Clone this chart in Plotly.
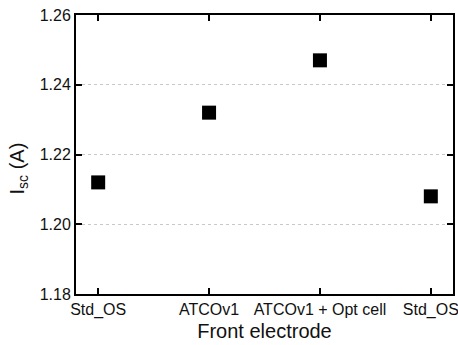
import plotly.graph_objects as go

categories = ["Std_OS", "ATCOv1", "ATCOv1 + Opt cell", "Std_OS"]
positions = [0, 1, 2, 3]
isc_values = [1.212, 1.232, 1.247, 1.208]
y_ticks = [1.18, 1.20, 1.22, 1.24, 1.26]
y_tick_labels = ["1.18", "1.20", "1.22", "1.24", "1.26"]

fig = go.Figure()
fig.add_trace(go.Scatter(
    x=positions, y=isc_values, mode="markers",
    marker=dict(symbol="square", size=14, color="black"),
    showlegend=False,
))

font = dict(family="Liberation Sans, Arial, sans-serif", color="#111")
fig.update_layout(
    width=458, height=345,
    margin=dict(l=76, r=5, t=15, b=51, autoexpand=False),
    paper_bgcolor="white", plot_bgcolor="white",
    font=font,
)
fig.update_xaxes(
    range=[-0.2, 3.2], tickmode="array", tickvals=positions, ticktext=categories,
    showline=True, linecolor="black", linewidth=2, mirror="ticks",
    ticks="inside", ticklen=6, tickwidth=1.5, tickcolor="black",
    showgrid=False, zeroline=False, automargin=False,
    ticklabeloverflow="allow",
    tickfont=dict(size=16, **font),
    title=dict(text="Front electrode", font=dict(size=20, **font), standoff=6),
)
fig.update_yaxes(
    range=[1.18, 1.26], tickmode="array", tickvals=y_ticks, ticktext=y_tick_labels,
    showline=True, linecolor="black", linewidth=2, mirror="ticks",
    ticks="inside", ticklen=6, tickwidth=1.5, tickcolor="black",
    showgrid=True, gridcolor="#c8c8c8", gridwidth=1, griddash="dot",
    zeroline=False, automargin=False,
    tickfont=dict(size=16, **font),
)
fig.add_annotation(
    text="I<sub>sc</sub> (A)", textangle=-90, showarrow=False,
    xref="paper", yref="paper", x=0, y=0.45, xanchor="center", yanchor="middle",
    xshift=-58, font=dict(size=20, **font),
)
fig.write_html("out.html", config={"displayModeBar": False},
               post_script="document.body.style.margin='0';")
